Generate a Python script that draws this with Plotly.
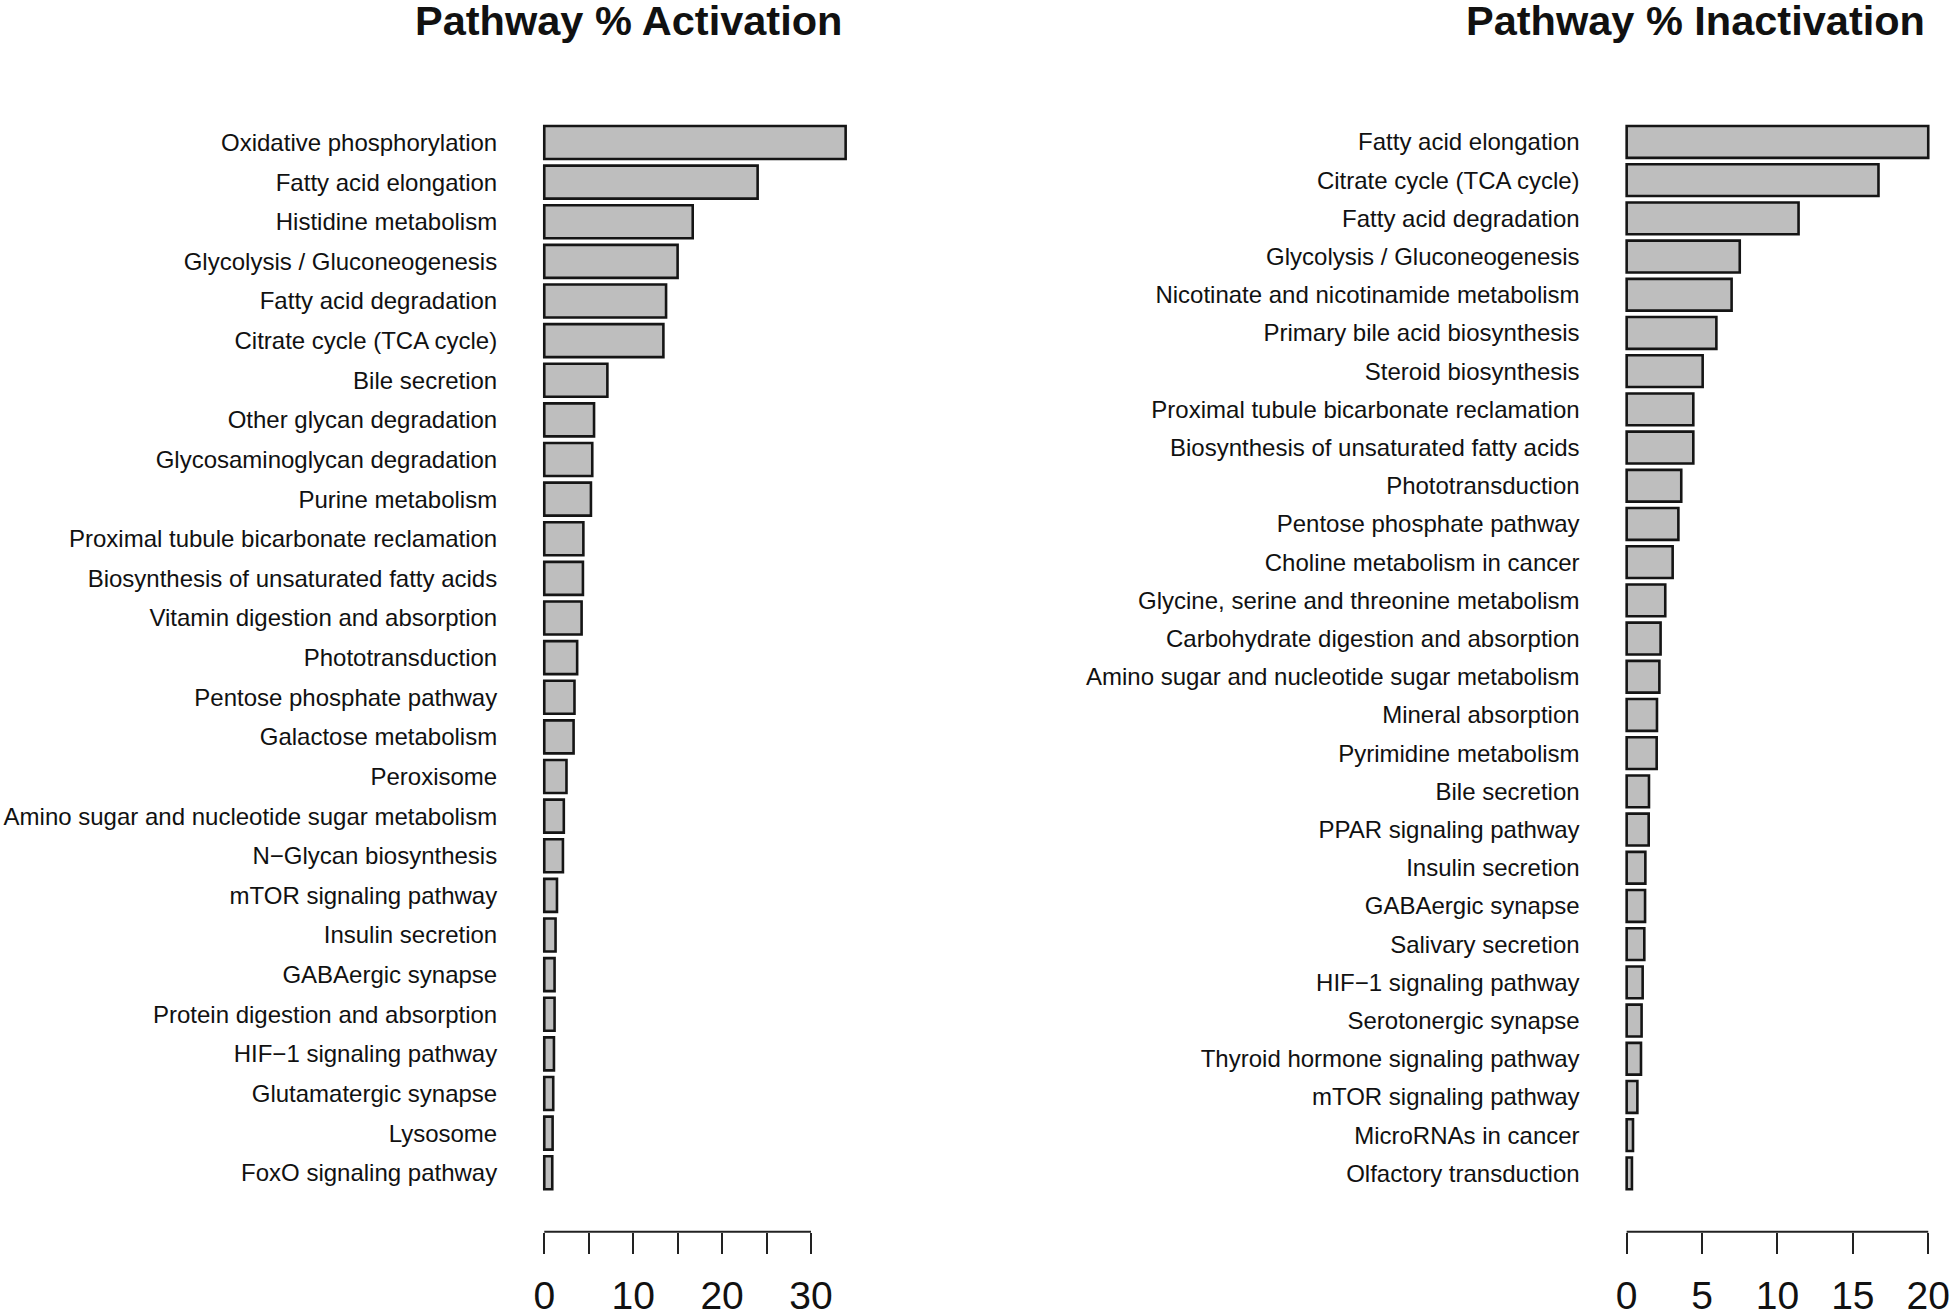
import plotly.graph_objects as go

# ---------------- data ----------------
act_labels = [
    "Oxidative phosphorylation", "Fatty acid elongation", "Histidine metabolism",
    "Glycolysis / Gluconeogenesis", "Fatty acid degradation", "Citrate cycle (TCA cycle)",
    "Bile secretion", "Other glycan degradation", "Glycosaminoglycan degradation",
    "Purine metabolism", "Proximal tubule bicarbonate reclamation",
    "Biosynthesis of unsaturated fatty acids", "Vitamin digestion and absorption",
    "Phototransduction", "Pentose phosphate pathway", "Galactose metabolism",
    "Peroxisome", "Amino sugar and nucleotide sugar metabolism", "N\u2212Glycan biosynthesis",
    "mTOR signaling pathway", "Insulin secretion", "GABAergic synapse",
    "Protein digestion and absorption", "HIF\u22121 signaling pathway",
    "Glutamatergic synapse", "Lysosome", "FoxO signaling pathway",
]
act_values = [33.9, 24.0, 16.7, 15.0, 13.7, 13.4, 7.1, 5.6, 5.4, 5.25, 4.4, 4.35, 4.2,
              3.7, 3.4, 3.3, 2.5, 2.2, 2.1, 1.43, 1.27, 1.16, 1.16, 1.09, 1.01, 0.94, 0.9]

inact_labels = [
    "Fatty acid elongation", "Citrate cycle (TCA cycle)", "Fatty acid degradation",
    "Glycolysis / Gluconeogenesis", "Nicotinate and nicotinamide metabolism",
    "Primary bile acid biosynthesis", "Steroid biosynthesis",
    "Proximal tubule bicarbonate reclamation", "Biosynthesis of unsaturated fatty acids",
    "Phototransduction", "Pentose phosphate pathway", "Choline metabolism in cancer",
    "Glycine, serine and threonine metabolism", "Carbohydrate digestion and absorption",
    "Amino sugar and nucleotide sugar metabolism", "Mineral absorption",
    "Pyrimidine metabolism", "Bile secretion", "PPAR signaling pathway",
    "Insulin secretion", "GABAergic synapse", "Salivary secretion",
    "HIF\u22121 signaling pathway", "Serotonergic synapse",
    "Thyroid hormone signaling pathway", "mTOR signaling pathway",
    "MicroRNAs in cancer", "Olfactory transduction",
]
inact_values = [20.0, 16.7, 11.4, 7.5, 6.96, 5.95, 5.04, 4.42, 4.42, 3.62, 3.43, 3.05,
                2.56, 2.25, 2.17, 2.01, 1.99, 1.48, 1.46, 1.24, 1.22, 1.17, 1.06, 0.99,
                0.95, 0.71, 0.42, 0.35]

act_title = "Pathway % Activation"
inact_title = "Pathway % Inactivation"
act_tickvals = [0, 5, 10, 15, 20, 25, 30]
act_ticktext = ["0", "", "10", "", "20", "", "30"]
inact_tickvals = [0, 5, 10, 15, 20]
inact_ticktext = ["0", "5", "10", "15", "20"]

# ---------------- layout constants ----------------
W, H = 1950, 1313
FONT = "Liberation Sans, Arial, Helvetica, sans-serif"
BAR_FILL = "#bebebe"
EDGE = "#151515"
BAR_W = 1 / 1.2          # R barplot: width 1, space 0.2
EXT = 0.04               # R axis extension

y_dom = [1 - 1231.8 / H, 1 - 83.5 / H]
x_dom_left = [532.2 / W, 857.7 / W]
x_dom_right = [1614.6 / W, 1940.3 / W]


def yrange(n):
    lo = -BAR_W / 2
    hi = n - 1 + BAR_W / 2
    ext = EXT * (hi - lo)
    return [hi + ext, lo - ext]


def xrange(vals):
    m = max(vals)
    return [-EXT * m, (1 + EXT) * m]


fig = go.Figure()
fig.add_trace(go.Bar(
    x=act_values, y=act_labels, orientation="h", xaxis="x", yaxis="y",
    width=BAR_W, marker=dict(color=BAR_FILL, line=dict(color=EDGE, width=2.6)),
    showlegend=False, hoverinfo="x+y",
))
fig.add_trace(go.Bar(
    x=inact_values, y=inact_labels, orientation="h", xaxis="x2", yaxis="y2",
    width=BAR_W, marker=dict(color=BAR_FILL, line=dict(color=EDGE, width=2.6)),
    showlegend=False, hoverinfo="x+y",
))

common_x = dict(
    showgrid=False, zeroline=False, showline=False, automargin=False,
    ticks="outside", ticklen=21, tickwidth=2, tickcolor="#222",
    tickfont=dict(family=FONT, size=39, color="#111"),
    ticklabelstandoff=8,
)
common_y = dict(
    type="category", showgrid=False, zeroline=False, showline=False, automargin=False,
    ticks="", tickfont=dict(family=FONT, size=24, color="#111"),
    ticklabelstandoff=34,
)

fig.update_layout(
    width=W, height=H,
    margin=dict(l=0, r=0, t=0, b=0, autoexpand=False),
    paper_bgcolor="white", plot_bgcolor="white",
    font=dict(family=FONT, color="#111"),
    xaxis=dict(domain=x_dom_left, anchor="y", range=xrange(act_values),
               tickvals=act_tickvals, ticktext=act_ticktext, **common_x),
    yaxis=dict(domain=y_dom, anchor="x", range=yrange(len(act_labels)),
               categoryorder="array", categoryarray=act_labels, **common_y),
    xaxis2=dict(domain=x_dom_right, anchor="y2", range=xrange(inact_values),
                tickvals=inact_tickvals, ticktext=inact_ticktext, **common_x),
    yaxis2=dict(domain=y_dom, anchor="x2", range=yrange(len(inact_labels)),
                categoryorder="array", categoryarray=inact_labels, **common_y),
)

# axis lines spanning only the tick range (R style)
for xref, tv in (("x", act_tickvals), ("x2", inact_tickvals)):
    fig.add_shape(type="line", xref=xref, yref="paper",
                  x0=tv[0], x1=tv[-1], y0=y_dom[0], y1=y_dom[0],
                  line=dict(color="#222", width=2))

# titles
for txt, xr in ((act_title, 844 / W), (inact_title, 1927 / W)):
    fig.add_annotation(text=f"<b>{txt}</b>", xref="paper", yref="paper",
                       x=xr, xanchor="right", y=1 - 21 / H, yanchor="middle",
                       showarrow=False,
                       font=dict(family=FONT, size=41.5, color="#111"))

# remove the default browser body margin so the figure fills the window exactly
fig.write_html(
    "out.html",
    config={"displayModeBar": False},
    post_script="document.body.style.margin='0';document.body.style.overflow='hidden';",
)
